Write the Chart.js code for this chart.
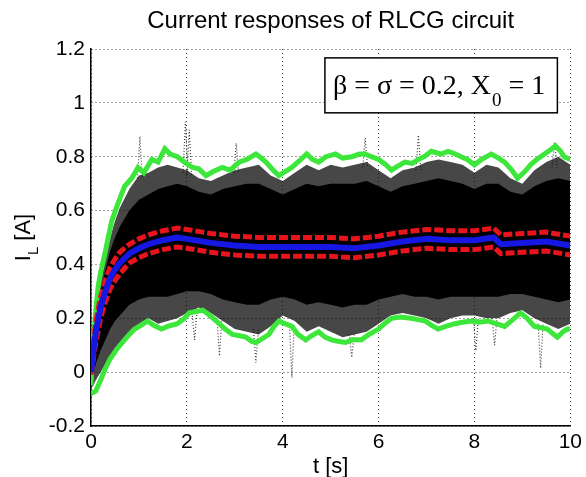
<!DOCTYPE html>
<html>
<head>
<meta charset="utf-8">
<script src="https://cdn.jsdelivr.net/npm/chart.js@4.4.1/dist/chart.umd.min.js"></script>
<style>
  body { margin: 0; background: #fff; }
  canvas { display: block; }
</style>
</head>
<body>
<canvas id="chart" width="586" height="477"></canvas>
<script>
// ensemble cloud (outer = sparse speckle, core = dense black)
const tCloud = [0, 0.05, 0.1, 0.2, 0.3, 0.4, 0.5, 0.6, 0.8, 1.0, 1.2, 1.4, 1.6, 1.8, 2.0, 2.25, 2.5, 2.75, 3.0, 3.25, 3.5, 3.75, 4.0, 4.25, 4.5, 4.75, 5.0, 5.25, 5.5, 5.75, 6.0, 6.25, 6.5, 6.75, 7.0, 7.25, 7.5, 7.75, 8.0, 8.25, 8.5, 8.75, 9.0, 9.25, 9.5, 9.75, 10];
const outerTop = [-0.04, 0.10, 0.20, 0.34, 0.42, 0.50, 0.56, 0.61, 0.68, 0.73, 0.74, 0.76, 0.77, 0.76, 0.75, 0.72, 0.71, 0.73, 0.75, 0.76, 0.77, 0.73, 0.71, 0.74, 0.77, 0.75, 0.77, 0.76, 0.77, 0.78, 0.75, 0.72, 0.75, 0.76, 0.78, 0.79, 0.78, 0.77, 0.74, 0.77, 0.76, 0.72, 0.70, 0.75, 0.78, 0.80, 0.77];
const coreTop = [-0.05, 0.07, 0.16, 0.30, 0.38, 0.45, 0.50, 0.54, 0.60, 0.64, 0.66, 0.68, 0.69, 0.70, 0.69, 0.67, 0.66, 0.68, 0.69, 0.70, 0.70, 0.68, 0.66, 0.68, 0.70, 0.69, 0.70, 0.70, 0.70, 0.71, 0.69, 0.67, 0.69, 0.70, 0.71, 0.72, 0.71, 0.70, 0.68, 0.70, 0.70, 0.67, 0.66, 0.69, 0.71, 0.72, 0.71];
const coreBottom = [-0.04, -0.01, 0.03, 0.08, 0.12, 0.16, 0.19, 0.21, 0.25, 0.27, 0.28, 0.28, 0.28, 0.29, 0.30, 0.30, 0.29, 0.27, 0.26, 0.25, 0.25, 0.27, 0.28, 0.27, 0.25, 0.26, 0.25, 0.24, 0.25, 0.25, 0.27, 0.28, 0.29, 0.28, 0.28, 0.27, 0.28, 0.28, 0.28, 0.28, 0.28, 0.29, 0.29, 0.28, 0.27, 0.26, 0.27];
const outerBottom = [-0.06, -0.05, -0.03, 0.0, 0.03, 0.06, 0.09, 0.11, 0.15, 0.18, 0.20, 0.18, 0.19, 0.20, 0.22, 0.24, 0.22, 0.19, 0.16, 0.15, 0.14, 0.17, 0.21, 0.19, 0.15, 0.17, 0.15, 0.13, 0.14, 0.15, 0.18, 0.21, 0.22, 0.21, 0.20, 0.18, 0.20, 0.21, 0.21, 0.20, 0.20, 0.22, 0.23, 0.20, 0.18, 0.16, 0.18];

// stray trajectories poking out of the cloud
const spikeT = [1.02, 1.97, 2.05, 3.03, 5.72, 6.83, 9.67, 2.16, 2.68, 3.44, 4.19, 5.44, 8.03, 8.42, 9.38];
const spikeBase = [0.72, 0.74, 0.73, 0.74, 0.76, 0.75, 0.76, 0.22, 0.20, 0.16, 0.18, 0.14, 0.20, 0.20, 0.18];
const spikeTip = [0.875, 0.93, 0.90, 0.85, 0.87, 0.88, 0.855, 0.12, 0.06, 0.035, -0.02, 0.055, 0.08, 0.10, 0.015];

// mean and mean +/- std
const tMean = [0, 0.05, 0.1, 0.2, 0.3, 0.4, 0.5, 0.6, 0.8, 1.0, 1.2, 1.5, 1.8, 2.0, 2.5, 3.0, 3.5, 4.0, 4.5, 5.0, 5.5, 6.0, 6.5, 7.0, 7.5, 8.0, 8.4, 8.55, 9.0, 9.5, 10];
const meanCurrent = [0.0, 0.08, 0.15, 0.24, 0.30, 0.35, 0.38, 0.405, 0.44, 0.46, 0.475, 0.49, 0.50, 0.495, 0.48, 0.47, 0.465, 0.465, 0.465, 0.465, 0.46, 0.47, 0.485, 0.495, 0.49, 0.49, 0.50, 0.475, 0.48, 0.485, 0.47];
const stdUpper = [0.01, 0.11, 0.19, 0.28, 0.34, 0.39, 0.42, 0.445, 0.475, 0.495, 0.51, 0.525, 0.535, 0.53, 0.515, 0.505, 0.50, 0.50, 0.50, 0.50, 0.495, 0.505, 0.52, 0.53, 0.525, 0.525, 0.535, 0.51, 0.515, 0.52, 0.505];
const stdLower = [-0.01, 0.05, 0.11, 0.20, 0.26, 0.31, 0.34, 0.365, 0.405, 0.425, 0.44, 0.455, 0.465, 0.46, 0.445, 0.435, 0.43, 0.43, 0.43, 0.43, 0.425, 0.435, 0.45, 0.46, 0.455, 0.455, 0.465, 0.44, 0.445, 0.45, 0.435];

// green envelopes
const tUpEnv = [0, 0.03, 0.06, 0.1, 0.15, 0.2, 0.29, 0.36, 0.43, 0.55, 0.7, 0.85, 0.98, 1.1, 1.27, 1.4, 1.54, 1.65, 1.8, 1.95, 2.12, 2.25, 2.4, 2.55, 2.74, 2.9, 3.09, 3.25, 3.44, 3.55, 3.65, 3.8, 3.92, 4.05, 4.19, 4.35, 4.5, 4.62, 4.75, 4.9, 5.1, 5.25, 5.44, 5.6, 5.72, 5.85, 6.0, 6.15, 6.27, 6.4, 6.55, 6.7, 6.83, 6.95, 7.1, 7.3, 7.45, 7.6, 7.72, 7.85, 8.0, 8.15, 8.35, 8.5, 8.63, 8.78, 8.9, 9.05, 9.17, 9.3, 9.46, 9.58, 9.69, 9.8, 9.87, 10];
const upEnv = [-0.05, 0.08, 0.14, 0.23, 0.32, 0.37, 0.44, 0.5, 0.56, 0.62, 0.69, 0.72, 0.76, 0.74, 0.79, 0.78, 0.83, 0.81, 0.80, 0.78, 0.76, 0.755, 0.73, 0.745, 0.76, 0.75, 0.78, 0.79, 0.81, 0.795, 0.78, 0.75, 0.73, 0.745, 0.76, 0.785, 0.81, 0.79, 0.78, 0.80, 0.81, 0.795, 0.80, 0.81, 0.81, 0.80, 0.79, 0.77, 0.75, 0.765, 0.78, 0.775, 0.79, 0.80, 0.82, 0.81, 0.82, 0.81, 0.80, 0.79, 0.77, 0.79, 0.81, 0.795, 0.78, 0.75, 0.72, 0.745, 0.77, 0.79, 0.81, 0.825, 0.84, 0.82, 0.80, 0.79];
const tLowEnv = [0, 0.1, 0.2, 0.29, 0.4, 0.56, 0.7, 0.8, 0.91, 1.05, 1.18, 1.3, 1.47, 1.6, 1.8, 1.95, 2.05, 2.2, 2.33, 2.45, 2.61, 2.8, 2.95, 3.1, 3.23, 3.35, 3.44, 3.58, 3.71, 3.82, 3.92, 4.05, 4.19, 4.32, 4.48, 4.6, 4.75, 4.88, 5.02, 5.15, 5.31, 5.45, 5.64, 5.8, 6.0, 6.12, 6.27, 6.45, 6.68, 6.82, 6.97, 7.1, 7.24, 7.4, 7.59, 7.75, 7.93, 8.1, 8.28, 8.45, 8.63, 8.8, 8.96, 9.1, 9.25, 9.4, 9.52, 9.62, 9.73, 9.85, 9.94, 10];
const lowEnv = [-0.08, -0.07, -0.03, 0.01, 0.05, 0.09, 0.12, 0.14, 0.16, 0.175, 0.19, 0.175, 0.16, 0.17, 0.18, 0.2, 0.22, 0.225, 0.23, 0.215, 0.19, 0.16, 0.14, 0.135, 0.13, 0.115, 0.11, 0.125, 0.14, 0.17, 0.19, 0.18, 0.17, 0.14, 0.12, 0.135, 0.15, 0.13, 0.12, 0.115, 0.11, 0.12, 0.12, 0.14, 0.16, 0.18, 0.20, 0.205, 0.20, 0.195, 0.19, 0.175, 0.16, 0.17, 0.18, 0.185, 0.19, 0.185, 0.19, 0.18, 0.17, 0.195, 0.22, 0.2, 0.17, 0.165, 0.16, 0.145, 0.13, 0.15, 0.16, 0.16];

const yTicks = [-0.2, 0, 0.2, 0.4, 0.6, 0.8, 1, 1.2];
const xTicks = [0, 2, 4, 6, 8, 10];

// text box, in axis units
const boxT = [4.88, 9.73];
const boxV = [0.963, 1.167];

const pts = (xs, ys) => xs.map((x, i) => ({x: x, y: ys[i]}));

const spikePts = [];
spikeT.forEach((t, i) => {
    spikePts.push({x: t - 0.05, y: spikeBase[i]});
    spikePts.push({x: t, y: spikeTip[i]});
    spikePts.push({x: t + 0.05, y: spikeBase[i]});
    spikePts.push({x: t, y: null});
});

const GREEN = '#3de63a';
const RED = '#e8141c';
const BLUE = '#1717e4';

function line(data, color, width, order, extra) {
    return Object.assign({
        data: data,
        borderColor: color,
        borderWidth: width,
        pointRadius: 0,
        tension: 0,
        fill: false,
        order: order
    }, extra || {});
}

const textPlugin = {
    id: 'textPlugin',
    afterDraw(chart) {
        const ctx = chart.ctx;
        const x = chart.scales.x, y = chart.scales.y;
        const area = chart.chartArea;
        ctx.save();

        // annotation box
        const bl = x.getPixelForValue(boxT[0]), br = x.getPixelForValue(boxT[1]);
        const bt = y.getPixelForValue(boxV[1]), bb = y.getPixelForValue(boxV[0]);
        ctx.fillStyle = '#fff';
        ctx.fillRect(bl, bt, br - bl, bb - bt);
        ctx.strokeStyle = '#000';
        ctx.lineWidth = 1.5;
        ctx.strokeRect(bl, bt, br - bl, bb - bt);

        ctx.fillStyle = '#000';
        ctx.textBaseline = 'alphabetic';
        ctx.textAlign = 'left';
        let tx = bl + 8;
        const base = bt + 36;
        ctx.font = '28px "Liberation Serif", "Times New Roman", serif';
        const s1 = 'β = σ = 0.2, X';
        ctx.fillText(s1, tx, base);
        tx += ctx.measureText(s1).width;
        ctx.font = '19px "Liberation Serif", "Times New Roman", serif';
        ctx.fillText('0', tx + 1, base + 12);
        tx += ctx.measureText('0').width + 1;
        ctx.font = '28px "Liberation Serif", "Times New Roman", serif';
        ctx.fillText(' = 1', tx, base);

        // x axis title
        ctx.font = '22px "Liberation Sans", Arial, sans-serif';
        ctx.textAlign = 'center';
        ctx.fillText('t [s]', (area.left + area.right) / 2, 473);

        // y axis title with subscript
        const midY = (area.top + area.bottom) / 2;
        ctx.translate(0, midY);
        ctx.rotate(-Math.PI / 2);
        ctx.textAlign = 'left';
        ctx.font = '22px "Liberation Sans", Arial, sans-serif';
        const wI = ctx.measureText('I').width;
        const wA = ctx.measureText(' [A]').width;
        ctx.font = '15px "Liberation Sans", Arial, sans-serif';
        const wL = ctx.measureText('L').width;
        let lx = -(wI + wL + wA) / 2;
        ctx.font = '22px "Liberation Sans", Arial, sans-serif';
        ctx.fillText('I', lx, 30);
        lx += wI;
        ctx.font = '15px "Liberation Sans", Arial, sans-serif';
        ctx.fillText('L', lx, 38);
        lx += wL;
        ctx.font = '22px "Liberation Sans", Arial, sans-serif';
        ctx.fillText(' [A]', lx, 30);

        ctx.restore();
    }
};

const ctx = document.getElementById('chart').getContext('2d');

const chart = new Chart(ctx, {
    type: 'line',
    data: {
        datasets: [
            line(pts(tMean, meanCurrent), BLUE, 6, 0),
            line(pts(tMean, stdUpper), RED, 5, 1, {borderDash: [9, 3]}),
            line(pts(tMean, stdLower), RED, 5, 1, {borderDash: [9, 3]}),
            line(pts(tUpEnv, upEnv), GREEN, 5, 2),
            line(pts(tLowEnv, lowEnv), GREEN, 5, 2),
            line(spikePts, 'rgba(0,0,0,0.75)', 1.2, 3, {borderDash: [1, 2], spanGaps: false}),
            line(pts(tCloud, coreTop), 'rgba(0,0,0,0)', 0, 4, {fill: '+1', backgroundColor: '#000'}),
            line(pts(tCloud, coreBottom), 'rgba(0,0,0,0)', 0, 5),
            line(pts(tCloud, outerTop), 'rgba(0,0,0,0)', 0, 6, {fill: '+1', backgroundColor: 'rgba(0,0,0,0.72)'}),
            line(pts(tCloud, outerBottom), 'rgba(0,0,0,0)', 0, 7)
        ]
    },
    options: {
        responsive: false,
        animation: false,
        devicePixelRatio: 1,
        layout: { padding: { left: 0, right: 13, top: 0, bottom: 0 } },
        plugins: {
            legend: { display: false },
            tooltip: { enabled: false },
            title: {
                display: true,
                fullSize: false,
                text: 'Current responses of RLCG circuit',
                color: '#000',
                font: { family: '"Liberation Sans", Arial, sans-serif', size: 24, weight: 'normal', lineHeight: 1.2 },
                padding: { top: 7, bottom: 13.2 }
            }
        },
        scales: {
            x: {
                type: 'linear',
                min: 0,
                max: 10,
                afterBuildTicks: s => { s.ticks = xTicks.map(v => ({value: v})); },
                afterFit: s => { s.height = 51; },
                ticks: {
                    color: '#000',
                    padding: 4,
                    maxRotation: 0,
                    font: { family: '"Liberation Sans", Arial, sans-serif', size: 21 }
                },
                grid: { color: '#444', lineWidth: 1, drawTicks: false },
                border: { display: true, color: '#000', width: 1.5, dash: [1, 3] }
            },
            y: {
                min: -0.2,
                max: 1.2,
                afterBuildTicks: s => { s.ticks = yTicks.map(v => ({value: v})); },
                afterFit: s => { s.width = 91; },
                ticks: {
                    color: '#000',
                    padding: 6,
                    font: { family: '"Liberation Sans", Arial, sans-serif', size: 21 },
                    callback: v => String(Math.round(v * 10) / 10)
                },
                grid: { color: '#444', lineWidth: 1, drawTicks: false },
                border: { display: true, color: '#000', width: 1.5, dash: [1, 3] }
            }
        }
    },
    plugins: [textPlugin]
});
</script>
</body>
</html>
